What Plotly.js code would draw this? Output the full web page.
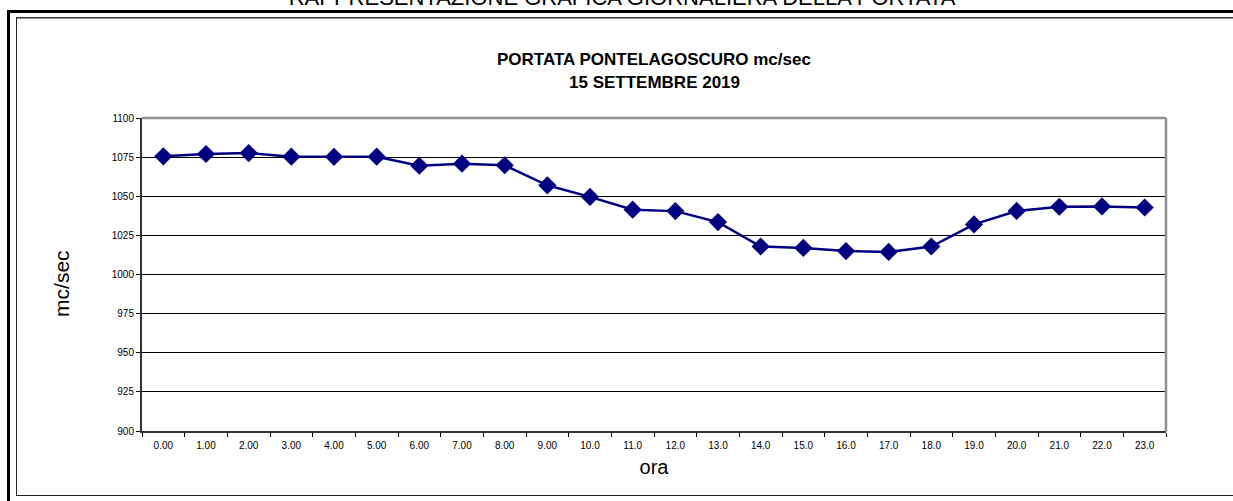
<!DOCTYPE html>
<html>
<head>
<meta charset="utf-8">
<script src="https://cdn.plot.ly/plotly-3.0.1.min.js"></script>
<style>
  html, body { margin: 0; padding: 0; background: #fff; overflow: hidden; }
  #wrap { position: relative; width: 1233px; height: 501px; }
  #chart { position: absolute; left: 0; top: 0; width: 1233px; height: 501px; }
  .ln { position: absolute; background: #000; pointer-events: none; }
  #toptitle { position: absolute; left: 0; width: 1244px; top: -13px; text-align: center;
    font-family: "Liberation Sans", Arial, sans-serif; font-size: 22px; line-height: 22px; color: #000; white-space: nowrap; }
</style>
</head>
<body>
<div id="wrap">
  <div id="chart"></div>
  <div id="toptitle">RAPPRESENTAZIONE GRAFICA GIORNALIERA DELLA PORTATA</div>
  <div class="ln" style="left:7px; top:10px; width:1226px; height:3px;"></div>
  <div class="ln" style="left:7px; top:10px; width:3px; height:491px;"></div>
  <div class="ln" style="left:16px; top:17px; width:1217px; height:1px; background:#333;"></div>
  <div class="ln" style="left:16px; top:18px; width:1217px; height:1px; background:#999;"></div>
  <div class="ln" style="left:16px; top:17px; width:1px; height:479px; background:#222;"></div>
  <div class="ln" style="left:16px; top:495px; width:1217px; height:1px; background:#222;"></div>
</div>
<script>
const hours = ["0.00","1.00","2.00","3.00","4.00","5.00","6.00","7.00","8.00","9.00","10.0","11.0",
               "12.0","13.0","14.0","15.0","16.0","17.0","18.0","19.0","20.0","21.0","22.0","23.0"];
const portata = [1075.5, 1077, 1077.6, 1075.3, 1075.2, 1075.3, 1069.5, 1070.8, 1069.8, 1057, 1049.6, 1041.4,
                 1040.5, 1033.5, 1017.9, 1017, 1015, 1014.4, 1017.9, 1032, 1040.6, 1043.3, 1043.5, 1042.8];
const yTicks = [900, 925, 950, 975, 1000, 1025, 1050, 1075, 1100];
const titleLines = ["PORTATA PONTELAGOSCURO mc/sec", "15 SETTEMBRE 2019"];

const font = "Liberation Sans, Arial, sans-serif";

const trace = {
  x: hours, y: portata, type: "scatter", mode: "lines+markers",
  line: { color: "#000080", width: 2.5 },
  marker: { symbol: "diamond", size: 14, color: "#000080" },
  hoverinfo: "x+y"
};

const layout = {
  width: 1233, height: 501,
  margin: { l: 142, r: 67, t: 118, b: 70, pad: 0 },
  paper_bgcolor: "#fff", plot_bgcolor: "#fff",
  showlegend: false,
  font: { family: font, color: "#000" },
  xaxis: {
    type: "category", tickson: "boundaries",
    ticks: "outside", ticklen: 4, tickcolor: "#000", tickwidth: 1,
    ticklabelstandoff: 4,
    tickfont: { family: font, size: 10, color: "#000" },
    showgrid: false, zeroline: false,
    showline: true, linecolor: "#333", linewidth: 2,
    range: [-0.5, 23.5],
    title: { text: "ora", font: { family: font, size: 20, color: "#000" }, standoff: 10 }
  },
  yaxis: {
    range: [900, 1100], tickvals: yTicks, ticktext: yTicks.map(String),
    ticks: "outside", ticklen: 4, tickcolor: "#000", tickwidth: 1,
    tickfont: { family: font, size: 10, color: "#000" },
    showgrid: true, gridcolor: "#000", gridwidth: 1,
    zeroline: false, showline: true, linecolor: "#333", linewidth: 2
  },
  annotations: [
    { text: "<b>" + titleLines[0] + "</b>", xref: "paper", yref: "paper", x: 0.5, y: 1.188,
      xanchor: "center", yanchor: "middle", showarrow: false,
      font: { family: font, size: 17, color: "#000" } },
    { text: "<b>" + titleLines[1] + "</b>", xref: "paper", yref: "paper", x: 0.5, y: 1.115,
      xanchor: "center", yanchor: "middle", showarrow: false,
      font: { family: font, size: 17, color: "#000" } },
    { text: "mc/sec", xref: "paper", yref: "paper", x: -0.0781, y: 0.47,
      xanchor: "center", yanchor: "middle", showarrow: false, textangle: -90,
      font: { family: font, size: 21, color: "#000" } }
  ],
  shapes: [
    { type: "line", xref: "paper", yref: "paper", x0: 0, x1: 1, y0: 1, y1: 1,
      line: { color: "#909090", width: 2.5 }, layer: "above" },
    { type: "line", xref: "paper", yref: "paper", x0: 1, x1: 1, y0: 0, y1: 1,
      line: { color: "#909090", width: 2.5 }, layer: "above" }
  ]
};

Plotly.newPlot("chart", [trace], layout, { displayModeBar: false, staticPlot: true });
</script>
</body>
</html>
